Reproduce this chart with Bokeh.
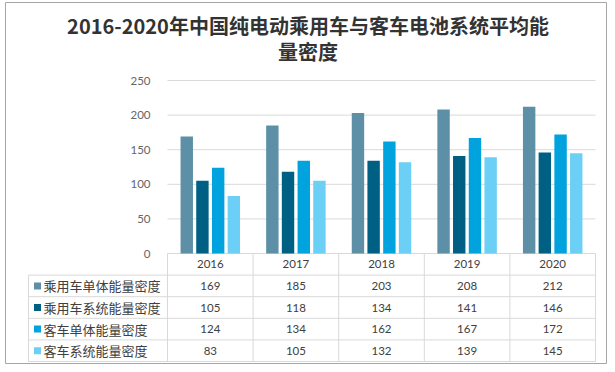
from bokeh.plotting import figure
from bokeh.models import Range1d, FixedTicker, LinearAxis
from bokeh.embed import file_html
from bokeh.resources import INLINE
from bokeh.core.properties import value

# ---- data ----
years = ["2016", "2017", "2018", "2019", "2020"]
series_names = ["乘用车单体能量密度", "乘用车系统能量密度", "客车单体能量密度", "客车系统能量密度"]
s_car_cell = [169, 185, 203, 208, 212]
s_car_sys = [105, 118, 134, 141, 146]
s_bus_cell = [124, 134, 162, 167, 172]
s_bus_sys = [83, 105, 132, 139, 145]
y_ticks = [0, 50, 100, 150, 200, 250]
title_lines = ["2016-2020年中国纯电动乘用车与客车电池系统平均能", "量密度"]

series = [s_car_cell, s_car_sys, s_bus_cell, s_bus_sys]
colors = ["#5D90A7", "#006083", "#00A3DD", "#6CCFF6"]
offsets = [-0.275, -0.092, 0.092, 0.275]

# ---- layout constants (canvas pixels) ----
W, H = 607, 364
FL, FT = 5, 2               # frame (outer box) left / top
FR, FB = W, H               # frame right / bottom
U = 85.6                    # px per category
ROW = 21.6                  # px per table row
PL, PR = 167, 595           # plot area left / right
TOP, ZERO = 80, 253         # canvas y of top tick and of value 0
TBL_L = 28                  # table left edge
TITLE_Y = [25, 50.5]        # title line centres
TITLE_X = 307.5
TXT = "#404040"
GRID = "#d9d9d9"
NUM_FONT = "Lato"
CJK = "Noto Sans CJK SC"

ncol = len(years)
nrow = len(series)
ymax = y_ticks[-1]
ys = (ZERO - TOP) / ymax            # px per value unit
x0 = -0.5 - (PL - FL) / U           # data x at frame left
xl = -0.5 - (PL - TBL_L) / U        # left edge of table

p = figure(width=W, height=H,
           x_range=Range1d(x0, ncol - 0.5 + (FR - PR) / U),
           y_range=Range1d(-(FB - ZERO) / ys, ymax + (TOP - FT) / ys),
           output_backend="svg", toolbar_location=None,
           x_axis_location=None, y_axis_location=None,
           min_border_left=FL, min_border_right=W - FR, min_border_top=FT,
           min_border_bottom=H - FB)
p.extra_y_ranges = {"tbl": Range1d((FB - ZERO) / ROW, -(ZERO - FT) / ROW)}
p.outline_line_color = "#a6a6a6"
p.outline_line_width = 1
p.grid.visible = False

# value axis at the left edge of the plotting area
yax = LinearAxis(ticker=FixedTicker(ticks=y_ticks), fixed_location=-0.5)
yax.axis_line_color = None
yax.major_tick_line_color = None
yax.minor_tick_line_color = None
yax.major_label_text_font = NUM_FONT
yax.major_label_text_font_size = "11.5px"
yax.major_label_text_color = "#666666"
yax.major_label_standoff = 11
p.add_layout(yax, "left")

# title
p.text(x=[x0 + (TITLE_X - FL) / U] * 2, y=[(ty - ZERO) / ROW for ty in TITLE_Y],
       text=title_lines, text_align="center", text_baseline="middle",
       text_font=value(CJK), text_font_size="20px", text_font_style="bold",
       text_color="#333333", y_range_name="tbl")

# horizontal gridlines at the ticks
p.segment(x0=[-0.5] * len(y_ticks), x1=[ncol - 0.5] * len(y_ticks), y0=y_ticks, y1=y_ticks,
          line_color=GRID, line_width=1)

# bars
for vals, col, off in zip(series, colors, offsets):
    xs = [i + off for i in range(ncol)]
    p.vbar(x=xs, top=vals, width=0.145, bottom=0, fill_color=col, line_color=None)

# ---- data table (rows on the "tbl" range) ----
hx0, hx1, hy = [], [], []
for r in range(1, nrow + 2):
    hx0.append(xl); hx1.append(ncol - 0.5); hy.append(r)
p.segment(x0=hx0, y0=hy, x1=hx1, y1=hy, line_color=GRID, line_width=1, y_range_name="tbl")
vx, vy0, vy1 = [xl], [1], [nrow + 1]
for c in range(ncol + 1):
    vx.append(c - 0.5); vy0.append(0); vy1.append(nrow + 1)
p.segment(x0=vx, y0=vy0, x1=vx, y1=vy1, line_color=GRID, line_width=1, y_range_name="tbl")

p.text(x=list(range(ncol)), y=[0.5] * ncol, text=years, text_align="center",
       text_baseline="middle", text_font=value(NUM_FONT), text_font_size="11.5px",
       text_color=TXT, y_range_name="tbl")
for k, vals in enumerate(series):
    p.text(x=list(range(ncol)), y=[k + 1.5] * ncol, text=[str(v) for v in vals],
           text_align="center", text_baseline="middle", text_font=value(NUM_FONT),
           text_font_size="11.5px", text_color=TXT, y_range_name="tbl")
ky = [k + 1.5 for k in range(nrow)]
p.scatter(x=[xl + 9 / U] * nrow, y=ky, marker="square", size=7, fill_color=colors,
          line_color=None, y_range_name="tbl")
p.text(x=[xl + 15 / U] * nrow, y=ky, text=series_names, text_align="left",
       text_baseline="middle", text_font=value(CJK), text_font_size="13px",
       text_color=TXT, y_range_name="tbl")

open("out.html", "w").write(file_html(p, INLINE))
